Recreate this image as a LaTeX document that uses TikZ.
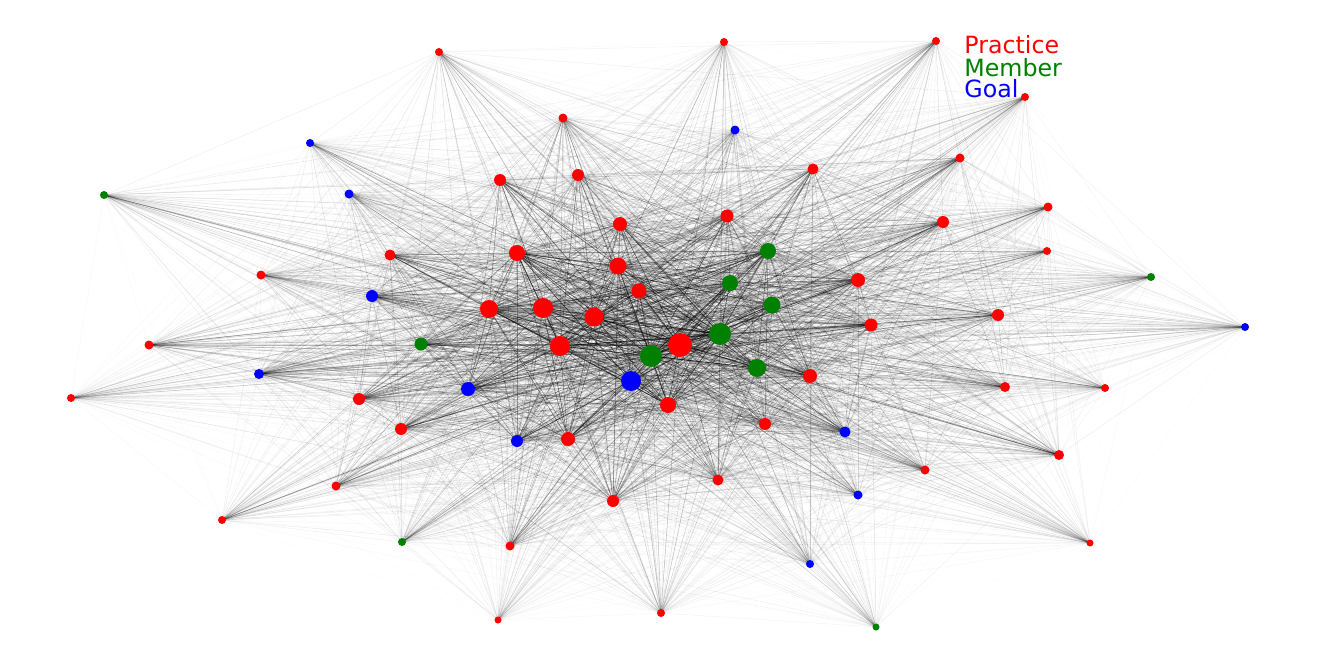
\documentclass[tikz,border=0pt]{standalone}
\usepackage{fontspec}
\setmainfont{DejaVu Sans}
\definecolor{pr}{RGB}{255,0,0}
\definecolor{mb}{RGB}{0,128,0}
\definecolor{gl}{RGB}{0,0,255}
\pgfdeclarelayer{bg}
\pgfsetlayers{bg,main}
\tikzset{
  vtx/.style={circle,inner sep=0pt,outer sep=0pt,draw=none},
  edge/.style={line width=0.3pt,draw=black},
  legend/.style={anchor=base west,inner sep=0pt,font=\fontsize{13.5}{15}\selectfont}
}
\begin{document}
\begin{tikzpicture}[x=0.2mm,y=-0.2mm]
\useasboundingbox (0,0) rectangle (1317,669);
\foreach [count=\k] \x/\y/\d/\c in {
  439/52/8/pr, 724/42/8/pr, 936/41/8/pr, 1025/97/8/pr, 563/118/9/pr,
  960/158/9/pr, 1048/207/9/pr, 1047/251/8/pr, 261/275/9/pr, 149/345/9/pr,
  71/398/8/pr, 1105/388/8/pr, 1059/455/10/pr, 925/470/9/pr, 222/520/8/pr,
  1090/543/7/pr, 510/546/9/pr, 498/620/7/pr, 661/613/8/pr, 336/486/9/pr,
  500/180/12/pr, 578/175/12/pr, 813/169/11/pr, 620/224/14/pr, 727/216/13/pr,
  943/222/12/pr, 390/255/11/pr, 517/253/16/pr, 618/266/17/pr, 639/291/15/pr,
  858/280/14/pr, 871/325/13/pr, 998/315/12/pr, 810/376/14/pr, 1005/387/10/pr,
  359/399/12/pr, 401/429/12/pr, 568/439/14/pr, 668/405/16/pr, 765/424/12/pr,
  718/480/11/pr, 613/501/12/pr, 489/309/18/pr, 543/308/20/pr, 594/317/19/pr,
  560/346/20/pr, 680/345/24/pr,
  104/195/8/mb, 1151/277/8/mb, 402/542/8/mb, 876/627/7/mb, 421/344/13/mb,
  768/251/16/mb, 730/283/16/mb, 772/305/17/mb, 720/334/22/mb, 651/356/22/mb,
  757/368/18/mb,
  310/143/8/gl, 349/194/9/gl, 735/130/9/gl, 1245/327/8/gl, 372/296/12/gl,
  259/374/10/gl, 468/389/14/gl, 631/381/20/gl, 517/441/12/gl, 845/432/11/gl,
  858/495/9/gl, 810/564/8/gl}{
  \node[vtx,fill=\c,minimum size=\d*0.2mm] (n\k) at (\x,\y) {};
  \expandafter\xdef\csname wd\k\endcsname{\d}
  \xdef\NN{\k}
}
\begin{pgfonlayer}{bg}
\foreach \i in {1,...,\NN}{
  \foreach \j in {1,...,\NN}{
    \ifnum\j>\i\relax
      \edef\wi{\csname wd\i\endcsname}\edef\wj{\csname wd\j\endcsname}
      \pgfmathtruncatemacro\rr{mod(mod(\i*\i,11)*3+mod(\j*\j,11)*5+mod(\i*\j,11),11)}
      \pgfmathsetmacro\op{min(0.7,0.002*(\wi-4)*(\wj-4)*(0.3+\rr/6))}
      \draw[edge,draw opacity=\op] (n\i.center) -- (n\j.center);
    \fi
  }
}
\end{pgfonlayer}
\node[legend,text=pr] (lp) at (964,53.5) {Practice};
\node[legend,text=mb] (lm) at (964,76.5) {Member};
\node[legend,text=gl] (lg) at (964,97.5) {Goal};
\end{tikzpicture}
\end{document}
